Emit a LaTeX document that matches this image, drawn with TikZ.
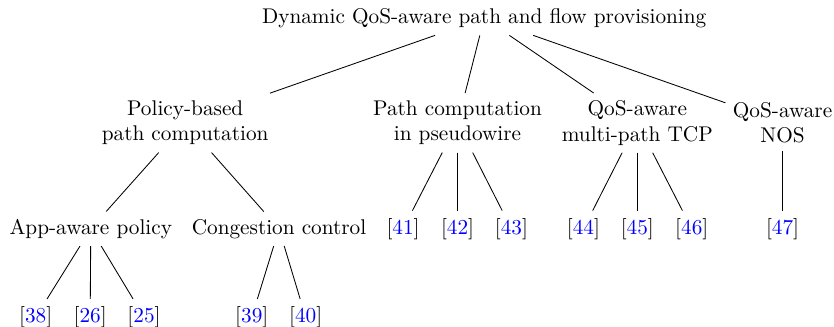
\documentclass[tikz,border=0pt]{standalone}
\usepackage{xcolor}
\usepackage{tikz}
\newcommand{\citeno}[1]{[\textcolor{blue}{#1}]}

\begin{document}
\begin{tikzpicture}[topic/.style={align=center}]
		%%%%% START %%%%%
		\useasboundingbox (0, 0) rectangle (13.78, 5.40);
		
		\node[topic] (root) at (8.00, 5.10) {Dynamic QoS-aware path and flow provisioning};
		
		\node[topic] (pol) at (3.06, 3.37) {Policy-based\\path computation};
		\node[topic] (pw) at (7.56, 3.37) {Path computation\\in pseudowire};
		\node[topic] (tcp) at (10.53, 3.37) {QoS-aware\\multi-path TCP};
		\node[topic] (nos) at (12.93, 3.37) {QoS-aware\\NOS};
		
		\node[topic] (app) at (1.50, 1.62) {App-aware policy};
		\node[topic] (cong) at (4.61, 1.62) {Congestion control};
		
		\node (r41) at (6.66, 1.62) {\citeno{41}};
		\node (r42) at (7.56, 1.62) {\citeno{42}};
		\node (r43) at (8.45, 1.62) {\citeno{43}};
		\node (r44) at (9.64, 1.62) {\citeno{44}};
		\node (r45) at (10.53, 1.62) {\citeno{45}};
		\node (r46) at (11.43, 1.62) {\citeno{46}};
		\node (r47) at (12.93, 1.62) {\citeno{47}};
		
		\node (r38) at (0.59, 0.16) {\citeno{38}};
		\node (r26) at (1.49, 0.16) {\citeno{26}};
		\node (r25) at (2.38, 0.16) {\citeno{25}};
		\node (r39) at (4.16, 0.16) {\citeno{39}};
		\node (r40) at (5.05, 0.16) {\citeno{40}};
		
		\draw (root) -- (pol);
		\draw (root) -- (pw);
		\draw (root) -- (tcp);
		\draw (root) -- (nos);
		
		\draw (pol) -- (app);
		\draw (pol) -- (cong);
		\draw (pw) -- (r41);
		\draw (pw) -- (r42);
		\draw (pw) -- (r43);
		\draw (tcp) -- (r44);
		\draw (tcp) -- (r45);
		\draw (tcp) -- (r46);
		\draw (nos) -- (r47);
		
		\draw (app) -- (r38);
		\draw (app) -- (r26);
		\draw (app) -- (r25);
		\draw (cong) -- (r39);
		\draw (cong) -- (r40);
		
		%%%%% END %%%%%
	\end{tikzpicture}
\end{document}
